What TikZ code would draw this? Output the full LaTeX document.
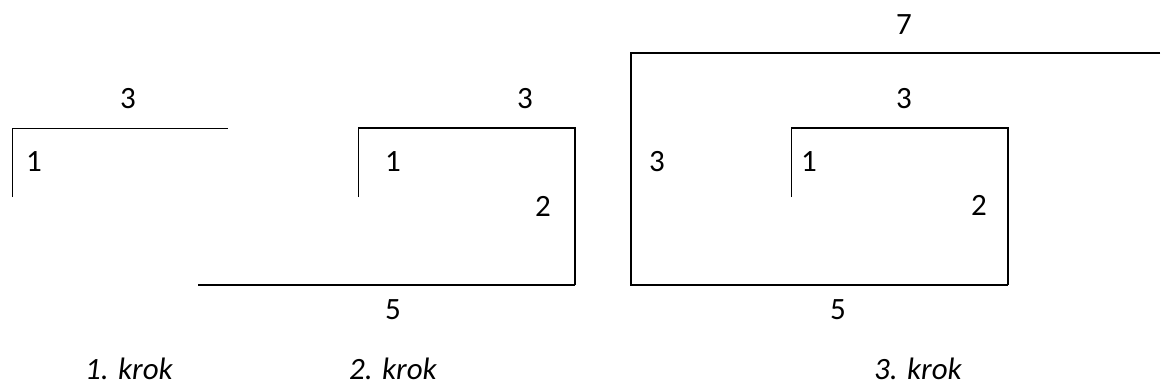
\documentclass[tikz,border=0pt]{standalone}
\usepackage{fontspec}
\setmainfont{Carlito}
\begin{document}
\begin{tikzpicture}[x=1pt,y=-1pt,
  lbl/.style={inner sep=0pt,font=\fontsize{31}{34}\selectfont},
  steplabel/.style={inner sep=0pt,font=\fontsize{31}{34}\selectfont\itshape},
  heavyline/.style={line width=2pt},
  lightline/.style={line width=1pt}]
\useasboundingbox[fill=white] (0,0) rectangle (1161,388);
% step 1
\draw[lightline] (12,197) -- (12,128) -- (228,128);
\node[lbl] (s1top) at (128,99) {3};
\node[lbl] (s1one) at (34,162) {1};
% step 2
\draw[lightline] (358,197) -- (358,128);
\draw[heavyline] (358,128) -- (575,128) -- (575,285);
\draw[line width=1.5pt] (575,285) -- (198,285);
\node[lbl] (s2top) at (525,99) {3};
\node[lbl] (s2one) at (393,162) {1};
\node[lbl] (s2two) at (543,206) {2};
\node[lbl] (s2five) at (393,310) {5};
% step 3
\draw[heavyline] (1160,53) -- (631,53) -- (631,285) -- (1008,285);
\draw[lightline] (791,197) -- (791,128);
\draw[line width=1.5pt] (791,128) -- (1008,128) -- (1008,285);
\node[lbl] (s3seven) at (904,25) {7};
\node[lbl] (s3top) at (904,99) {3};
\node[lbl] (s3left) at (657,162) {3};
\node[lbl] (s3one) at (809,162) {1};
\node[lbl] (s3two) at (979,205) {2};
\node[lbl] (s3five) at (838,310) {5};
% captions
\node[steplabel] (c1) at (129,369) {1. krok};
\node[steplabel] (c2) at (393,369) {2. krok};
\node[steplabel] (c3) at (918,369) {3. krok};
\end{tikzpicture}
\end{document}
